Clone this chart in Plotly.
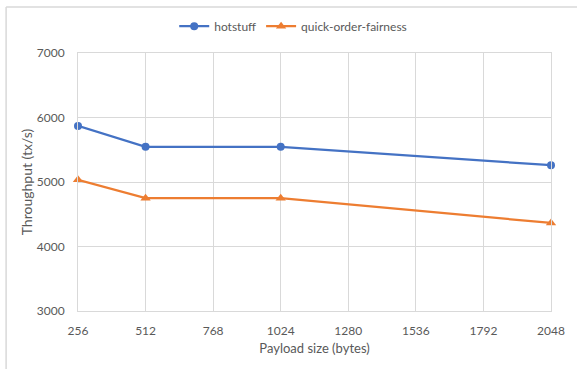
import plotly.graph_objects as go

# Payload sizes (bytes) and measured throughput (tx/s)
payload_sizes = [256, 512, 1024, 2048]
hotstuff_tps = [5870, 5545, 5545, 5260]
qof_tps = [5035, 4750, 4750, 4365]

x_ticks = [256, 512, 768, 1024, 1280, 1536, 1792, 2048]
y_ticks = [3000, 4000, 5000, 6000, 7000]

BLUE = "#4472C4"
ORANGE = "#ED7D31"
GRID = "#d9d9d9"
TEXT = "#595959"
FONT = "Lato"

fig = go.Figure()
fig.add_trace(go.Scatter(
    x=payload_sizes, y=hotstuff_tps, name="hotstuff",
    mode="lines+markers", cliponaxis=False,
    line=dict(color=BLUE, width=2.25),
    marker=dict(symbol="circle", size=8, color=BLUE),
))
fig.add_trace(go.Scatter(
    x=payload_sizes, y=qof_tps, name="quick-order-fairness",
    mode="lines+markers", cliponaxis=False,
    line=dict(color=ORANGE, width=2.25),
    marker=dict(symbol="triangle-up", size=9, color=ORANGE),
))

fig.update_layout(
    width=577, height=369,
    margin=dict(l=78, r=19, t=52, b=58),
    paper_bgcolor="white", plot_bgcolor="white",
    font=dict(family=FONT, size=12, color=TEXT),
    showlegend=True,
    legend=dict(
        orientation="h", x=0.455, xanchor="center",
        y=1.104, yanchor="middle",
        font=dict(family=FONT, size=12, color=TEXT),
        tracegroupgap=0,
    ),
    xaxis=dict(
        range=[256, 2048], tickmode="array", tickvals=x_ticks,
        ticktext=[str(v) for v in x_ticks],
        showgrid=True, gridcolor=GRID, gridwidth=1,
        showline=True, linecolor=GRID, mirror=True,
        zeroline=False, ticks="", ticklabelstandoff=9,
        tickfont=dict(size=12, color=TEXT),
        title=dict(text="Payload size (bytes)", font=dict(size=13, color=TEXT), standoff=6),
    ),
    yaxis=dict(
        range=[3000, 7000], tickmode="array", tickvals=y_ticks,
        ticktext=[str(v) for v in y_ticks],
        showgrid=True, gridcolor=GRID, gridwidth=1,
        showline=True, linecolor=GRID, mirror=True,
        zeroline=False, ticks="", ticklabelstandoff=10,
        tickfont=dict(size=12, color=TEXT),
        title=dict(text="Throughput (tx/s)", font=dict(size=14, color=TEXT), standoff=0),
    ),
)

# Chart-area frame (top and left edges)
frame = dict(type="line", xref="paper", yref="paper", line=dict(color=GRID, width=1.5))
fig.add_shape(**frame, x0=-0.152, x1=1.1, y0=1.178, y1=1.178)
fig.add_shape(**frame, x0=-0.152, x1=-0.152, y0=-0.25, y1=1.178)

fig.write_html("out.html")
